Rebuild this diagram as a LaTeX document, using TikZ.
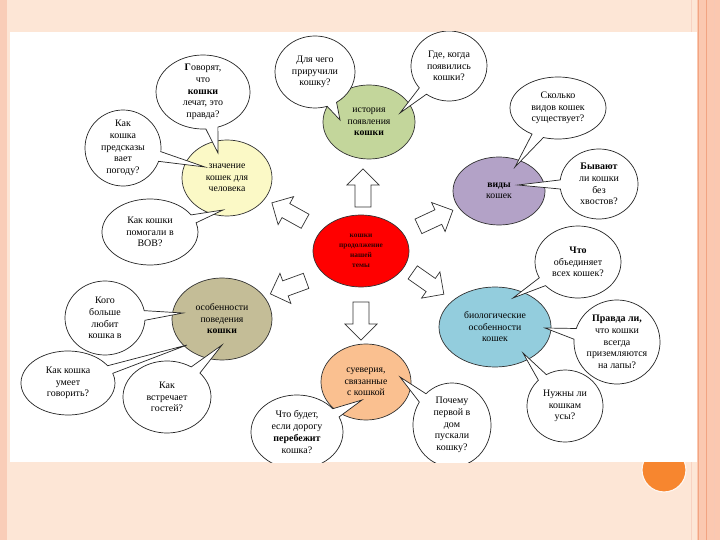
\documentclass[tikz,border=0pt]{standalone}
\usepackage{fontspec}
\setmainfont{Liberation Serif}
\usepackage{tikz}
\usetikzlibrary{shapes.geometric, shapes.callouts, shapes.arrows, calc}

\definecolor{slidebg}{HTML}{FDE6D6}
\definecolor{slideedge}{HTML}{F9CDB8}
\definecolor{stripe}{HTML}{FBC8B0}
\definecolor{stripeline}{HTML}{F2A482}
\definecolor{dotorange}{HTML}{F7862F}
\definecolor{histgreen}{HTML}{C3D69B}
\definecolor{valyellow}{HTML}{FBF9C6}
\definecolor{kindviolet}{HTML}{B3A2C7}
\definecolor{biocyan}{HTML}{93CDDD}
\definecolor{behtan}{HTML}{C4BD97}
\definecolor{supapricot}{HTML}{FAC090}

\begin{document}
\begin{tikzpicture}[x=0.03cm, y=-0.03cm,
	topic/.style={ellipse, draw=black!80, line width=0.6pt, inner sep=-3pt, align=center, font=\fontsize{8.3}{9.8}\selectfont},
	question/.style={ellipse callout, draw=black!85, fill=white, line width=0.6pt, inner sep=-4pt, align=center, font=\fontsize{8.5}{10}\selectfont},
	blockarrow/.style={single arrow, draw=black!80, fill=white, line width=0.6pt, inner xsep=0pt, inner ysep=0.23cm, single arrow head extend=0.24cm, minimum height=1.14cm}]

	% slide
	\fill[slidebg] (0,0) rectangle (720,540);
	\useasboundingbox (0,0) rectangle (720,540);
	\fill[slideedge] (0,0) rectangle (7,540);
	\fill[stripe] (697,0) rectangle (720,540);
	\draw[stripeline, line width=1.2pt] (698.5,0) -- (698.5,540);
	\draw[stripeline, line width=0.8pt] (706,0) -- (706,540);
	\draw[stripeline!60, line width=0.6pt] (714,0) -- (714,540);
	\draw[stripeline!50, line width=0.6pt] (691,0) -- (691,540);
	\fill[dotorange, draw=white!60!slidebg, line width=1pt] (664,470) circle[radius=22];
	\fill[white] (10,32) rectangle (697,462);

	\begin{scope}
		\clip (10,32) rectangle (697,462);

		% topics
		\node[topic, fill=red, minimum width=2.88cm, minimum height=2.16cm, font=\fontsize{6.3}{8.5}\bfseries\selectfont, text=black!80!red] (main) at (361,251) {кошки\\продолжение\\нашей\\темы};
		\node[topic, fill=histgreen, minimum width=2.76cm, minimum height=2.22cm] (hist) at (369,122) {история\\появления\\\textbf{кошки}};
		\node[topic, fill=valyellow, minimum width=2.7cm, minimum height=2.28cm] (val) at (227,178) {значение\\кошек для\\человека};
		\node[topic, fill=kindviolet, minimum width=2.76cm, minimum height=2.04cm] (kinds) at (499,191) {\textbf{виды}\\кошек};
		\node[topic, fill=biocyan, minimum width=3.36cm, minimum height=2.4cm] (bio) at (495,327) {биологические\\особенности\\кошек};
		\node[topic, fill=behtan, minimum width=3cm, minimum height=2.46cm] (beh) at (222,319) {особенности\\поведения\\\textbf{кошки}};
		\node[topic, fill=supapricot, minimum width=2.7cm, minimum height=2.28cm] (sup) at (366,382) {суеверия,\\связанные\\с кошкой};

		% arrows from the centre
		\node[blockarrow, rotate=90] (aup) at (363,192) {};
		\node[blockarrow, rotate=151] (aupleft) at (292,214) {};
		\node[blockarrow, rotate=25] (aupright) at (432,220) {};
		\node[blockarrow, rotate=200] (adownleft) at (292,286) {};
		\node[blockarrow, rotate=-35] (adownright) at (425,281) {};
		\node[blockarrow, rotate=-90] (adown) at (361,317) {};

		% questions
		\node[question, minimum width=2.82cm, minimum height=2.22cm, callout absolute pointer={($(val)+(-9,-25)$)}] (q1) at (203,92) {\textbf{Г}оворят,\\что\\\textbf{кошки}\\лечат, это\\правда?};
		\node[question, minimum width=2.28cm, minimum height=2.28cm, callout absolute pointer={($(val)+(-22,-11)$)}] (q2) at (123,148) {Как\\кошка\\предсказы\\вает\\погоду?};
		\node[question, minimum width=2.88cm, minimum height=1.98cm, callout absolute pointer={($(val)+(-4,32)$)}] (q3) at (150,232) {Как кошки\\помогали в\\ВОВ?};
		\node[question, minimum width=2.4cm, minimum height=2.16cm, callout absolute pointer={($(hist)+(-29,-2)$)}] (q4) at (315,72) {Для чего\\приручили\\кошку?};
		\node[question, minimum width=2.28cm, minimum height=2.1cm, callout absolute pointer={($(hist)+(31,-9)$)}] (q5) at (449,66) {Где, когда\\появились\\кошки?};
		\node[question, minimum width=2.88cm, minimum height=1.86cm, callout absolute pointer={($(kinds)+(16,-24)$)}] (q6) at (558,108) {Сколько\\видов кошек\\существует?};
		\node[question, minimum width=2.34cm, minimum height=2.1cm, callout absolute pointer={($(kinds)+(19,-6)$)}] (q7) at (599,184) {\textbf{Бывают}\\ли кошки\\без\\хвостов?};
		\node[question, minimum width=2.58cm, minimum height=2.16cm, callout absolute pointer={($(bio)+(18,-29)$)}] (q8) at (578,262) {\textbf{Что}\\объединяет\\всех кошек?};
		\node[question, minimum width=2.58cm, minimum height=2.52cm, callout absolute pointer={($(bio)+(50,1)$)}] (q9) at (617,342) {\textbf{Правда ли,}\\что кошки\\всегда\\приземляются\\на лапы?};
		\node[question, minimum width=2.28cm, minimum height=2.16cm, callout absolute pointer={($(bio)+(28,26)$)}] (q10) at (565,406) {Нужны ли\\кошкам\\усы?};
		\node[question, minimum width=2.4cm, minimum height=2.22cm, callout absolute pointer={($(beh)+(-39,-6)$)}] (q11) at (105,318) {Кого\\больше\\любит\\кошка в};
		\node[question, minimum width=2.82cm, minimum height=1.92cm, callout absolute pointer={($(beh)+(-35,26)$)}] (q12) at (68,383) {Как кошка\\умеет\\говорить?};
		\node[question, minimum width=2.64cm, minimum height=2.16cm, callout absolute pointer={($(beh)+(0,26)$)}] (q13) at (167,397) {Как\\встречает\\гостей?};
		\node[question, minimum width=2.76cm, minimum height=2.22cm, callout absolute pointer={($(sup)+(-4,18)$)}] (q14) at (297,432) {Что будет,\\если дорогу\\\textbf{перебежит}\\кошка?};
		\node[question, minimum width=2.34cm, minimum height=2.52cm, callout absolute pointer={($(sup)+(34,-5)$)}] (q15) at (452,425) {Почему\\первой в\\дом\\пускали\\кошку?};
	\end{scope}
\end{tikzpicture}
\end{document}
